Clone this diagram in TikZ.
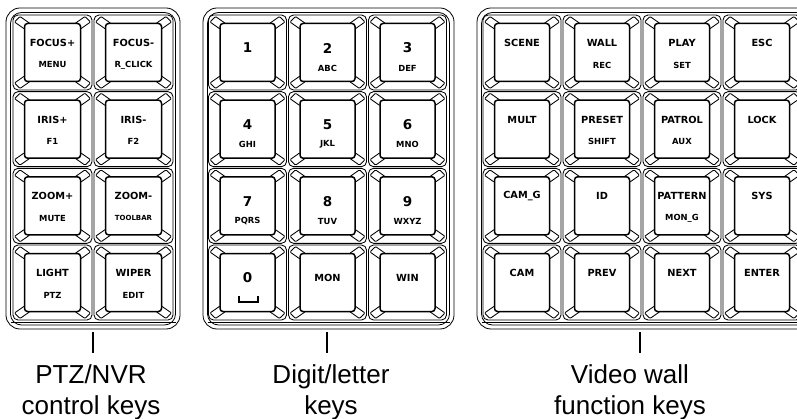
\documentclass[tikz,border=0pt]{standalone}
\usepackage{fontspec}
\setmainfont{Liberation Sans}
\newfontfamily\keyfont{DejaVu Sans}

%% one key cap: top-left corner, width, height (y runs downward)
\newcommand\kbdkey[4]{%
  \begin{scope}[shift={(#1,#2)}]
    \draw[keyline, fill=white, rounded corners=5] (0,0) rectangle (#3,#4);
    \foreach \sx/\sy/\ox/\oy in {1/1/0/0, -1/1/#3/0, 1/-1/0/#4, -1/-1/#3/#4}
      \draw[keyline, fill=white, shift={(\ox,\oy)}, xscale=\sx, yscale=\sy,
          rounded corners=1]
        (1.5,7) -- (7,1.5) -- (17,8.5) -- (11.5,14) -- cycle;
    \draw[faceline, fill=white, rounded corners=3] (11.5,8.5) rectangle (#3-11.5,#4-8.5);
  \end{scope}}

\begin{document}
\begin{tikzpicture}[
    x=1pt, y=-1pt,
    keyline/.style={line width=.85pt, draw=black},
    faceline/.style={line width=1.5pt, draw=black},
    frame/.style={line width=.8pt, draw=black},
    keytxt/.style={font=\keyfont\bfseries\fontsize{9.8}{10}\selectfont, inner sep=0pt},
    subtxt/.style={font=\keyfont\bfseries\fontsize{8.4}{9}\selectfont, inner sep=0pt},
    subsmall/.style={font=\keyfont\bfseries\fontsize{7}{7}\selectfont, inner sep=0pt},
    digit/.style={font=\keyfont\bfseries\fontsize{13.5}{14}\selectfont, inner sep=0pt},
    caption/.style={font=\fontsize{26}{31}\selectfont, align=center, inner sep=0pt,
        anchor=north},
    tick/.style={line width=2pt},
]
    \clip (0,0) rectangle (797,419);
    \fill[white] (0,0) rectangle (797,419);

    %% the three panels, each with a double rim and a ledge at the bottom
    \foreach \xa/\xb in {6/180, 203/454, 477/812}{
        \draw[frame, rounded corners=14] (\xa,8) rectangle (\xb,329);
        \draw[frame, rounded corners=11] (\xa+4.5,12.5) rectangle (\xb-4.5,325);
        \draw[frame] (\xa+4.5,322) -- (\xb-4.5,322);
    }

    %% the keys: 2, 3 and 4 columns of 4 rows
    \foreach \r in {0,...,3}{
        \foreach \x in {13, 94}{
            \kbdkey{\x}{15+76.67*\r}{79}{75}}
        \foreach \x in {208.5, 288.5, 368.5}{
            \kbdkey{\x}{15+76.67*\r}{78}{75}}
        \foreach \x in {483, 563, 643, 723}{
            \kbdkey{\x}{15+76.67*\r}{78}{75}}
    }

    %% PTZ/NVR keys
    \foreach \c/\r/\ta in {0/0/FOCUS+, 1/0/FOCUS-, 0/1/IRIS+, 1/1/IRIS-,
            0/2/ZOOM+, 1/2/ZOOM-, 0/3/LIGHT, 1/3/WIPER}
        \node[keytxt] (ptz-\c\r) at (52.5+81*\c, 43+76.67*\r) {\ta};
    \foreach \c/\r/\tb/\style in {0/0/MENU/subtxt, 1/0/R\_CLICK/subtxt,
            0/1/F1/subtxt, 1/1/F2/subtxt, 0/2/MUTE/subtxt, 1/2/TOOLBAR/subsmall,
            0/3/PTZ/subtxt, 1/3/EDIT/subtxt}
        \node[\style] (ptzb-\c\r) at (52.5+81*\c, 65+76.67*\r) {\tb};

    %% digit/letter keys
    \foreach \c/\r/\ta in {0/0/1, 1/0/2, 2/0/3, 0/1/4, 1/1/5, 2/1/6,
            0/2/7, 1/2/8, 2/2/9, 0/3/0}
        \node[digit] (dig-\c\r) at (247.5+80*\c, 48+76.67*\r) {\ta};
    \foreach \c/\r/\tb in {1/0/ABC, 2/0/DEF, 0/1/GHI, 1/1/JKL, 2/1/MNO,
            0/2/PQRS, 1/2/TUV, 2/2/WXYZ}
        \node[subtxt] (digb-\c\r) at (247.5+80*\c, 68+76.67*\r) {\tb};
    \node[keytxt] (mon) at (327.5, 278) {MON};
    \node[keytxt] (win) at (407.5, 278) {WIN};
    %% the space mark under 0
    \draw[line width=1.3pt] (239,296) -- (239,302) -- (258,302) -- (258,296);

    %% video wall keys
    \foreach \c/\r/\ta in {0/0/SCENE, 1/0/WALL, 2/0/PLAY, 3/0/ESC,
            0/1/MULT, 1/1/PRESET, 2/1/PATROL, 3/1/LOCK,
            0/2/CAM\_G, 1/2/ID, 2/2/PATTERN, 3/2/SYS,
            0/3/CAM, 1/3/PREV, 2/3/NEXT, 3/3/ENTER}
        \node[keytxt] (vw-\c\r) at (522+80*\c, 43+76.67*\r) {\ta};
    \foreach \c/\r/\tb in {1/0/REC, 2/0/SET, 1/1/SHIFT, 2/1/AUX, 2/2/MON\_G}
        \node[subtxt] (vwb-\c\r) at (522+80*\c, 65+76.67*\r) {\tb};

    %% captions under the panels
    \coordinate (p1b) at (93,332);
    \coordinate (p2b) at (327,332);
    \coordinate (p3b) at (640,332);
    \draw[tick] (p1b) -- ++(0,21);
    \draw[tick] (p2b) -- ++(0,21);
    \draw[tick] (p3b) -- ++(0,21);
    \node[caption] (cap1) at (91,364) {PTZ/NVR\\control keys};
    \node[caption] (cap2) at (331,364) {Digit/letter\\keys};
    \node[caption] (cap3) at (630,364) {Video wall\\function keys};
\end{tikzpicture}
\end{document}
